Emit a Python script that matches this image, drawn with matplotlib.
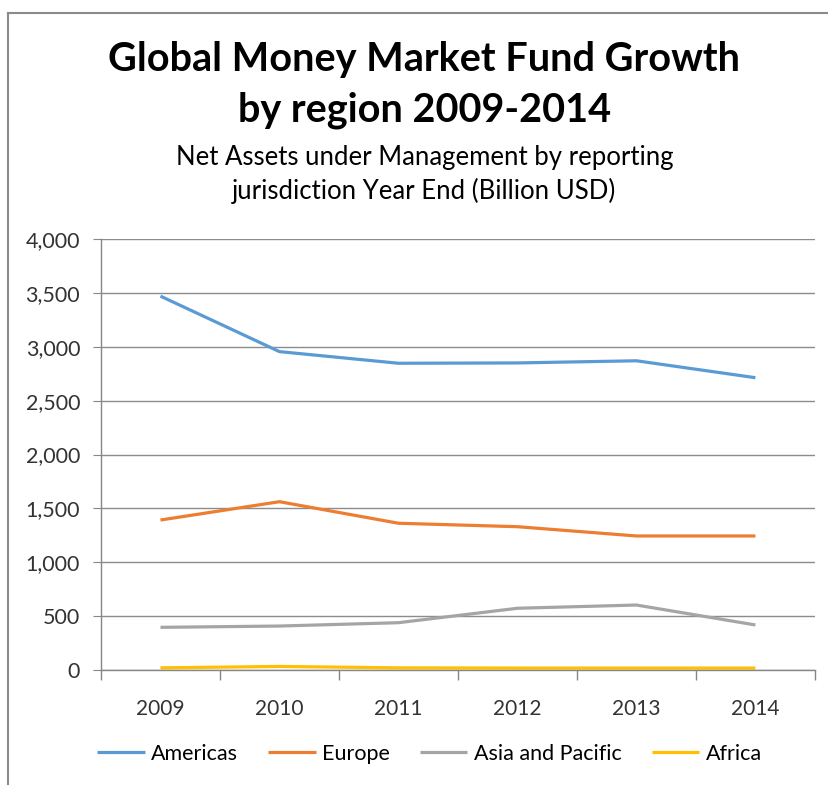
import matplotlib.pyplot as plt
from matplotlib.lines import Line2D
from matplotlib.ticker import FuncFormatter

years = ["2009", "2010", "2011", "2012", "2013", "2014"]
americas = [3470, 2955, 2847, 2850, 2870, 2713]
europe = [1392, 1562, 1362, 1330, 1244, 1244]
asia_pacific = [396, 408, 439, 573, 603, 418]
africa = [20, 33, 20, 18, 18, 18]

series = [("Americas", americas, "#5B9BD5"),
          ("Europe", europe, "#ED7D31"),
          ("Asia and Pacific", asia_pacific, "#A5A5A5"),
          ("Africa", africa, "#FFC000")]

plt.rcParams['font.family'] = ['Lato', 'DejaVu Sans']

fig = plt.figure(figsize=(8.29, 7.85), dpi=100)
ax = fig.add_axes([0.1218, 0.1465, 0.983 - 0.1218, 0.6955 - 0.1465])

x = list(range(len(years)))
for name, vals, col in series:
    ax.plot(x, vals, color=col, lw=2.3, label=name, solid_capstyle='butt')

ax.set_xlim(-0.5, len(years) - 0.5)
ax.set_ylim(0, 4000)
ax.set_yticks(range(0, 4001, 500))
ax.yaxis.set_major_formatter(FuncFormatter(lambda v, p: f"{int(v):,}"))
ax.set_xticks(x)
ax.set_xticklabels(years)
ax.set_xticks([i - 0.5 for i in range(len(years) + 1)], minor=True)
ax.tick_params(axis='x', which='major', length=0, pad=21, labelsize=15, colors='#333333')
ax.tick_params(axis='x', which='minor', length=7, color='#868686', width=1)
ax.tick_params(axis='y', length=6, color='#868686', labelsize=15.5, labelcolor='#333333', pad=9)
ax.grid(axis='y', color='#8c8c8c', lw=1)
ax.set_axisbelow(True)
for s in ['top', 'right']:
    ax.spines[s].set_visible(False)
for s in ['left', 'bottom']:
    ax.spines[s].set_color('#868686')
    ax.spines[s].set_linewidth(1)

fig.text(0.512, 1 - 60 / 785, "Global Money Market Fund Growth", ha='center', va='center',
         fontsize=28.5, fontweight='bold')
fig.text(0.512, 1 - 110 / 785, "by region 2009-2014", ha='center', va='center',
         fontsize=28.5, fontweight='bold')
fig.text(0.512, 1 - 158 / 785, "Net Assets under Management by reporting", ha='center', va='center',
         fontsize=18.5)
fig.text(0.512, 1 - 191 / 785, "jurisdiction Year End (Billion USD)", ha='center', va='center',
         fontsize=18.5)

fig.legend(loc='center', bbox_to_anchor=(0.518, 1 - 754 / 785), ncol=4, frameon=False,
           fontsize=15.5, handlelength=2.2, columnspacing=1.4, handletextpad=0.3)

fig.add_artist(Line2D([8 / 829, 1], [1 - 13 / 785, 1 - 13 / 785], color='#8a8a8a', lw=1.5))
fig.add_artist(Line2D([8 / 829, 8 / 829], [0, 1 - 13 / 785], color='#8a8a8a', lw=1.5))

fig.savefig("out.png", dpi=100)
